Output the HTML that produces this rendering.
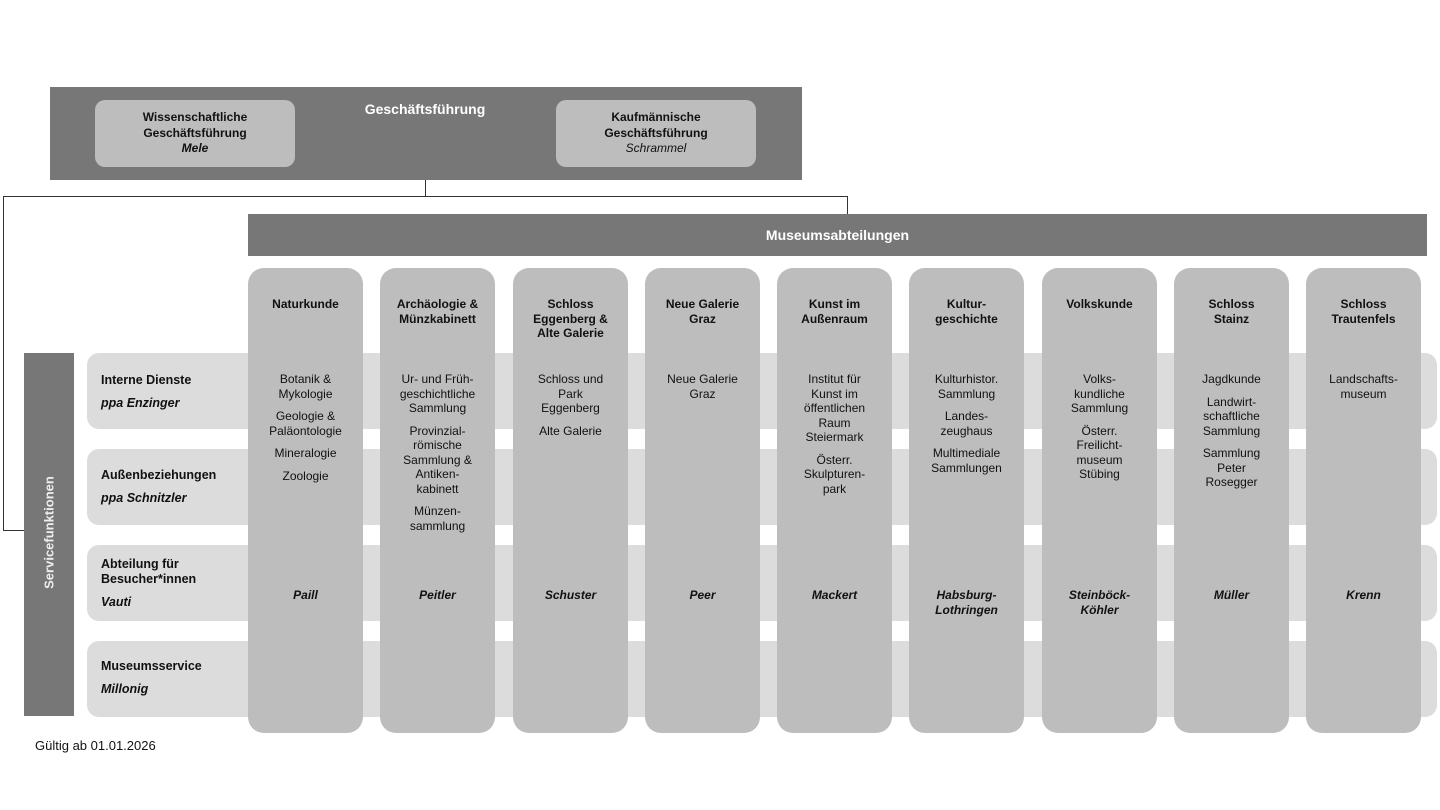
<!DOCTYPE html>
<html><head><meta charset="utf-8"><style>
body{margin:0;width:1440px;height:810px;background:#fff;position:relative;overflow:hidden;font-family:"Liberation Sans",Arial,sans-serif;color:#111}
.a{position:absolute}
.dk{background:#777}
.row{position:absolute;left:87px;width:1350px;height:76px;background:#dcdcdc;border-radius:12px}
.col{position:absolute;top:268px;width:115px;height:465px;background:#bdbdbd;border-radius:16px;text-align:center;font-size:12px;line-height:14.5px}
.col .t{position:absolute;top:29px;left:0;right:0;font-weight:bold}
.col .i{position:absolute;top:104px;left:0;right:0}
.col .i div{margin-bottom:8px}
.col .n{position:absolute;top:320px;left:0;right:0;font-weight:bold;font-style:italic}
.rl{position:absolute;left:101px;font-size:12.5px;font-weight:bold;line-height:15px}
.rl i{display:block;margin-top:8px}
.ln{position:absolute;background:#333}
</style></head><body>
<div class="a dk" style="left:50px;top:87px;width:752px;height:93px"></div>
<div class="a" style="left:300px;top:101px;width:250px;text-align:center;color:#fff;font-weight:bold;font-size:14px">Geschäftsführung</div>
<div class="a" style="left:95px;top:100px;width:200px;height:67px;background:#bdbdbd;border-radius:10px;text-align:center;font-size:12px;font-weight:bold;line-height:15.5px;padding-top:10px;box-sizing:border-box">Wissenschaftliche<br>Geschäftsführung<br><i>Mele</i></div>
<div class="a" style="left:556px;top:100px;width:200px;height:67px;background:#bdbdbd;border-radius:10px;text-align:center;font-size:12px;font-weight:bold;line-height:15.5px;padding-top:10px;box-sizing:border-box">Kaufmännische<br>Geschäftsführung<br><i style="font-weight:normal">Schrammel</i></div>
<div class="ln" style="left:425px;top:180px;width:1px;height:17px"></div>
<div class="ln" style="left:3px;top:196px;width:845px;height:1px"></div>
<div class="ln" style="left:847px;top:196px;width:1px;height:18px"></div>
<div class="ln" style="left:3px;top:196px;width:1px;height:335px"></div>
<div class="ln" style="left:3px;top:530px;width:22px;height:1px"></div>
<div class="a dk" style="left:248px;top:214px;width:1179px;height:42px;color:#fff;font-weight:bold;font-size:14px;text-align:center;line-height:42px">Museumsabteilungen</div>
<div class="a dk" style="left:24px;top:353px;width:50px;height:363px"></div>
<div class="a" style="left:-41px;top:525px;width:180px;text-align:center;color:#eee;font-weight:bold;font-size:13px;transform:rotate(-90deg)">Servicefunktionen</div>
<div class="row" style="top:353px"></div>
<div class="row" style="top:449px"></div>
<div class="row" style="top:545px"></div>
<div class="row" style="top:641px"></div>
<div class="rl" style="top:373px">Interne Dienste<i>ppa Enzinger</i></div>
<div class="rl" style="top:468px">Außenbeziehungen<i>ppa Schnitzler</i></div>
<div class="rl" style="top:557px">Abteilung für<br>Besucher*innen<i>Vauti</i></div>
<div class="rl" style="top:659px">Museumsservice<i>Millonig</i></div>

<div class="col" style="left:248px"><div class="t">Naturkunde</div><div class="i"><div>Botanik &amp;<br>Mykologie</div><div>Geologie &amp;<br>Paläontologie</div><div>Mineralogie</div><div>Zoologie</div></div><div class="n">Paill</div></div>
<div class="col" style="left:380px"><div class="t">Archäologie &amp;<br>Münzkabinett</div><div class="i"><div>Ur- und Früh-<br>geschichtliche<br>Sammlung</div><div>Provinzial-<br>römische<br>Sammlung &amp;<br>Antiken-<br>kabinett</div><div>Münzen-<br>sammlung</div></div><div class="n">Peitler</div></div>
<div class="col" style="left:513px"><div class="t">Schloss<br>Eggenberg &amp;<br>Alte Galerie</div><div class="i"><div>Schloss und<br>Park<br>Eggenberg</div><div>Alte Galerie</div></div><div class="n">Schuster</div></div>
<div class="col" style="left:645px"><div class="t">Neue Galerie<br>Graz</div><div class="i"><div>Neue Galerie<br>Graz</div></div><div class="n">Peer</div></div>
<div class="col" style="left:777px"><div class="t">Kunst im<br>Außenraum</div><div class="i"><div>Institut für<br>Kunst im<br>öffentlichen<br>Raum<br>Steiermark</div><div>Österr.<br>Skulpturen-<br>park</div></div><div class="n">Mackert</div></div>
<div class="col" style="left:909px"><div class="t">Kultur-<br>geschichte</div><div class="i"><div>Kulturhistor.<br>Sammlung</div><div>Landes-<br>zeughaus</div><div>Multimediale<br>Sammlungen</div></div><div class="n">Habsburg-<br>Lothringen</div></div>
<div class="col" style="left:1042px"><div class="t">Volkskunde</div><div class="i"><div>Volks-<br>kundliche<br>Sammlung</div><div>Österr.<br>Freilicht-<br>museum<br>Stübing</div></div><div class="n">Steinböck-<br>Köhler</div></div>
<div class="col" style="left:1174px"><div class="t">Schloss<br>Stainz</div><div class="i"><div>Jagdkunde</div><div>Landwirt-<br>schaftliche<br>Sammlung</div><div>Sammlung<br>Peter<br>Rosegger</div></div><div class="n">Müller</div></div>
<div class="col" style="left:1306px"><div class="t">Schloss<br>Trautenfels</div><div class="i"><div>Landschafts-<br>museum</div></div><div class="n">Krenn</div></div>

<div class="a" style="left:35px;top:738px;font-size:13px">Gültig ab 01.01.2026</div>
</body></html>
